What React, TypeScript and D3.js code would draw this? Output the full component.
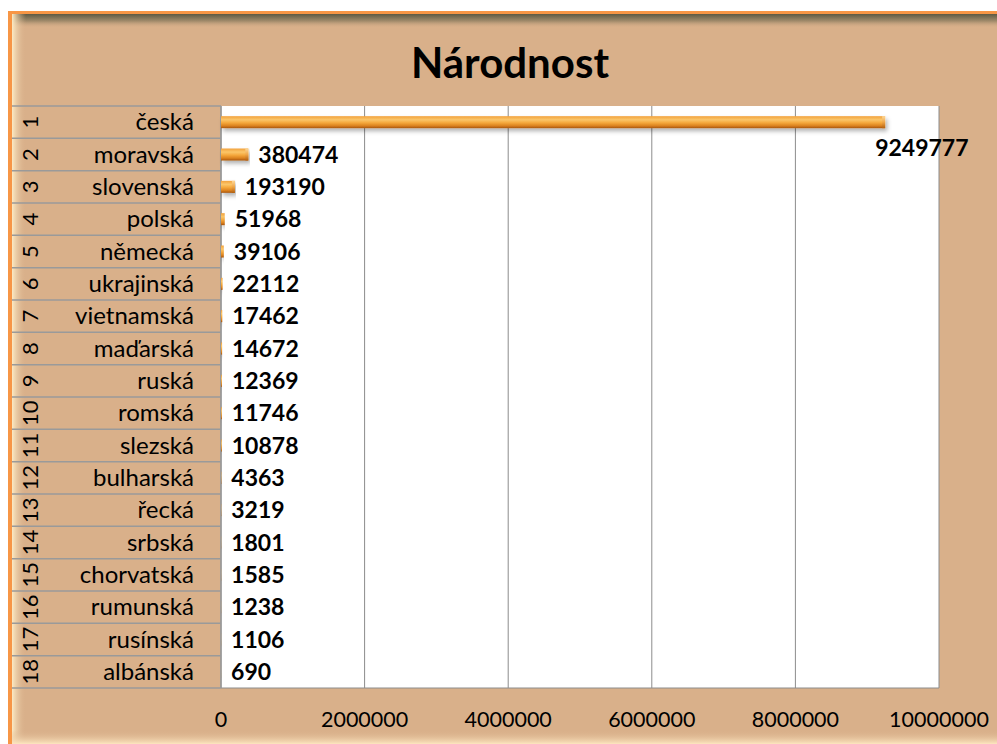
import React from "react";
import * as d3 from "d3";

const categories = [
  "česká", "moravská", "slovenská", "polská", "německá", "ukrajinská",
  "vietnamská", "maďarská", "ruská", "romská", "slezská", "bulharská",
  "řecká", "srbská", "chorvatská", "rumunská", "rusínská", "albánská",
];
const values = [
  9249777, 380474, 193190, 51968, 39106, 22112, 17462, 14672, 12369,
  11746, 10878, 4363, 3219, 1801, 1585, 1238, 1106, 690,
];
const xTicks = [0, 2000000, 4000000, 6000000, 8000000, 10000000];

const W = 997;
const H = 744;
const plot = { left: 221, right: 939, top: 106, bottom: 688 };
const tableLeft = 12;
const font = "Lato, 'Open Sans', sans-serif";

export default function App() {
  const x = d3.scaleLinear().domain([0, 10000000]).range([plot.left, plot.right]);
  const y = d3
    .scaleBand<number>()
    .domain(d3.range(categories.length))
    .range([plot.top, plot.bottom]);
  const rowH = y.bandwidth();
  const barH = 12;

  return (
    <svg
      width={W}
      height={H}
      style={{ position: "absolute", left: 0, top: 0, background: "#fff" }}
    >
      <defs>
        <linearGradient id="bar" x1="0" y1="0" x2="0" y2="1">
          <stop offset="0" stopColor="#f2a23c" />
          <stop offset="0.3" stopColor="#fbc66a" />
          <stop offset="0.55" stopColor="#f5a83c" />
          <stop offset="0.8" stopColor="#dc8320" />
          <stop offset="1" stopColor="#a9550c" />
        </linearGradient>
        <linearGradient id="barEnd" x1="0" y1="0" x2="0" y2="1">
          <stop offset="0" stopColor="#fcd89a" />
          <stop offset="0.5" stopColor="#f0a648" />
          <stop offset="1" stopColor="#b4600e" />
        </linearGradient>
        <linearGradient id="topBevel" x1="0" y1="0" x2="0" y2="1">
          <stop offset="0" stopColor="#5e5a44" />
          <stop offset="0.5" stopColor="#a08a6a" />
          <stop offset="1" stopColor="#d9b08a" stopOpacity="0" />
        </linearGradient>
        <linearGradient id="leftBevel" x1="0" y1="0" x2="1" y2="0">
          <stop offset="0" stopColor="#fcebc4" />
          <stop offset="1" stopColor="#d9b08a" stopOpacity="0" />
        </linearGradient>
        <linearGradient id="bottomBevel" x1="0" y1="0" x2="0" y2="1">
          <stop offset="0" stopColor="#d9b08a" stopOpacity="0" />
          <stop offset="1" stopColor="#fde6c0" />
        </linearGradient>
        <filter id="shadow" x="-5%" y="-50%" width="110%" height="250%">
          <feDropShadow dx="2" dy="3" stdDeviation="2" floodColor="#000" floodOpacity="0.3" />
        </filter>
      </defs>

      {/* frame */}
      <rect x={8} y={11} width={W} height={H} fill="#f79646" />
      <rect x={12} y={14} width={W} height={H} fill="#d9b08a" />
      <rect x={12} y={14} width={W} height={14} fill="url(#topBevel)" />
      <rect x={12} y={14} width={14} height={H} fill="url(#leftBevel)" />
      <rect x={12} y={730} width={W} height={14} fill="url(#bottomBevel)" />

      <text
        x={510}
        y={78}
        textAnchor="middle"
        fontFamily={font}
        fontWeight="bold"
        fontSize={42}
        fill="#000"
      >
        Národnost
      </text>

      {/* plot area */}
      <rect
        x={plot.left}
        y={plot.top}
        width={plot.right - plot.left}
        height={plot.bottom - plot.top}
        fill="#fff"
      />
      {xTicks.map((t) => (
        <line
          key={t}
          x1={x(t)}
          x2={x(t)}
          y1={plot.top}
          y2={plot.bottom}
          stroke="#8c8c8c"
          strokeWidth={1}
        />
      ))}
      <line x1={plot.left} x2={plot.right} y1={plot.bottom} y2={plot.bottom} stroke="#8c8c8c" />

      {/* table rows */}
      {categories.map((c, i) => {
        const y0 = y(i)!;
        return (
          <g key={c}>
            <line
              x1={tableLeft}
              x2={plot.left}
              y1={y0}
              y2={y0}
              stroke="#9a9a9a"
              strokeWidth={1.5}
            />
            <text
              transform={`translate(38,${y0 + rowH / 2}) rotate(-90)`}
              textAnchor="middle"
              fontFamily={font}
              fontSize={22}
              fill="#000"
            >
              {i + 1}
            </text>
            <text
              x={194}
              y={y0 + rowH / 2 + 8}
              textAnchor="end"
              fontFamily={font}
              fontSize={24}
              fill="#000"
            >
              {c}
            </text>
          </g>
        );
      })}
      <line
        x1={tableLeft}
        x2={plot.left}
        y1={plot.bottom}
        y2={plot.bottom}
        stroke="#9a9a9a"
        strokeWidth={1.5}
      />
      <line x1={plot.left} x2={plot.left} y1={plot.top} y2={plot.bottom} stroke="#9a9a9a" strokeWidth={1.5} />

      {/* bars */}
      {values.map((v, i) => {
        const y0 = y(i)! + rowH / 2 - barH / 2;
        const w = x(v) - x(0);
        return (
          <g key={i} filter="url(#shadow)">
            <rect x={x(0)} y={y0} width={w} height={barH} fill="url(#bar)" />
            {w > 4 && (
              <rect x={x(v) - 3} y={y0} width={3} height={barH} fill="url(#barEnd)" />
            )}
          </g>
        );
      })}

      {/* data labels */}
      {values.map((v, i) => {
        const yc = y(i)! + rowH / 2;
        let lx = x(v) + 10;
        let ly = yc + 8;
        if (lx + 90 > plot.right) {
          lx = x(v) - 10;
          ly = yc + 34;
        }
        return (
          <text
            key={i}
            x={lx}
            y={ly}
            fontFamily={font}
            fontWeight="bold"
            fontSize={23}
            fill="#000"
          >
            {v}
          </text>
        );
      })}

      {/* x axis labels */}
      {xTicks.map((t) => (
        <text
          key={t}
          x={x(t)}
          y={727}
          textAnchor="middle"
          fontFamily={font}
          fontSize={21.5}
          fill="#000"
        >
          {t}
        </text>
      ))}
    </svg>
  );
}
